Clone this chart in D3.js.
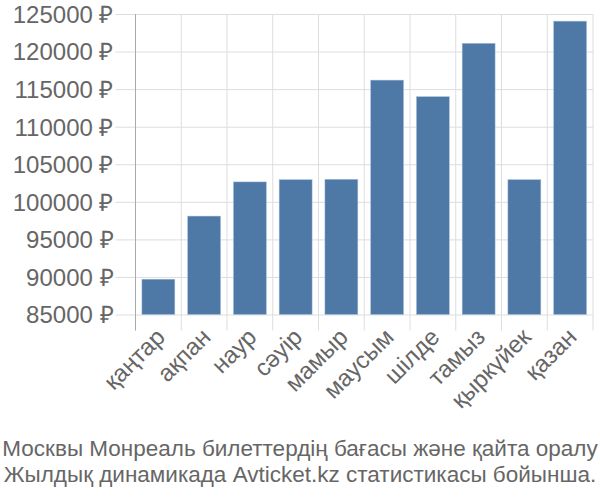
<!DOCTYPE html>
<html><head><meta charset="utf-8">
<script src="https://cdn.jsdelivr.net/npm/d3@7"></script>
<style>body{margin:0;background:#fff}svg{display:block}text{font-family:"Liberation Sans",Arial,sans-serif;fill:#666}</style>
</head><body><svg id="c" width="600" height="500"></svg>
<script>
const categories = ["қаңтар","ақпан","наур","сәуір","мамыр","маусым","шілде","тамыз","қыркүйек","қазан"];
const values = [89700,98100,102650,102950,103000,116200,114000,121100,102950,124050];
const yTicks = [85000,90000,95000,100000,105000,110000,115000,120000,125000];
const titleLines = ["Москвы Монреаль билеттердің бағасы және қайта оралу","Жылдық динамикада Avticket.kz статистикасы бойынша."];

const svg = d3.select("#c");
const L=135.5, R=593, T=14, B=314.5;
const x = d3.scaleBand().domain(categories).range([L,R]).paddingInner(0.28).paddingOuter(0.14);
const y = d3.scaleLinear().domain([85000,125000]).range([B,T]);

// horizontal grid
const gy = svg.append("g").attr("transform",`translate(${L},0)`)
  .call(d3.axisLeft(y).tickValues(yTicks).tickSize(-(R-L)).tickFormat(d=>d+" ₽"));
gy.select(".domain").remove();
gy.selectAll(".tick line").attr("stroke","#ddd").attr("stroke-width",1).attr("x1",-20).attr("x2",R-L);
gy.selectAll(".tick text").attr("x",-22).attr("dy","0.35em").style("font-size","24px").attr("fill","#666");

// vertical grid at band boundaries
const bounds = categories.map(c=>x(c)-x.step()*0.14).concat([R]);
svg.append("g").selectAll("line").data(bounds).join("line")
  .attr("x1",d=>d).attr("x2",d=>d).attr("y1",T).attr("y2",B+16)
  .attr("stroke","#ddd").attr("stroke-width",1);
// left axis line
svg.append("line").attr("x1",L).attr("x2",L).attr("y1",T).attr("y2",B+16).attr("stroke","#aaa").attr("stroke-width",1);

svg.append("g").selectAll("rect").data(values).join("rect")
  .attr("x",(d,i)=>x(categories[i])).attr("width",x.bandwidth())
  .attr("y",d=>y(d)).attr("height",d=>B-y(d))
  .attr("fill","#4e79a7").attr("stroke","#a9c1dd").attr("stroke-width",0.5);

// x labels
svg.append("g").selectAll("text").data(categories).join("text")
  .attr("transform",d=>`translate(${x(d)+x.bandwidth()/2+8},${B+24}) rotate(-45)`)
  .attr("text-anchor","end").style("font-size","24px").text(d=>d);

svg.append("g").selectAll("text").data(titleLines).join("text")
  .attr("x",300).attr("y",(d,i)=>456+i*26).attr("text-anchor","middle")
  .style("font-size","22.5px").text(d=>d);
</script></body></html>
